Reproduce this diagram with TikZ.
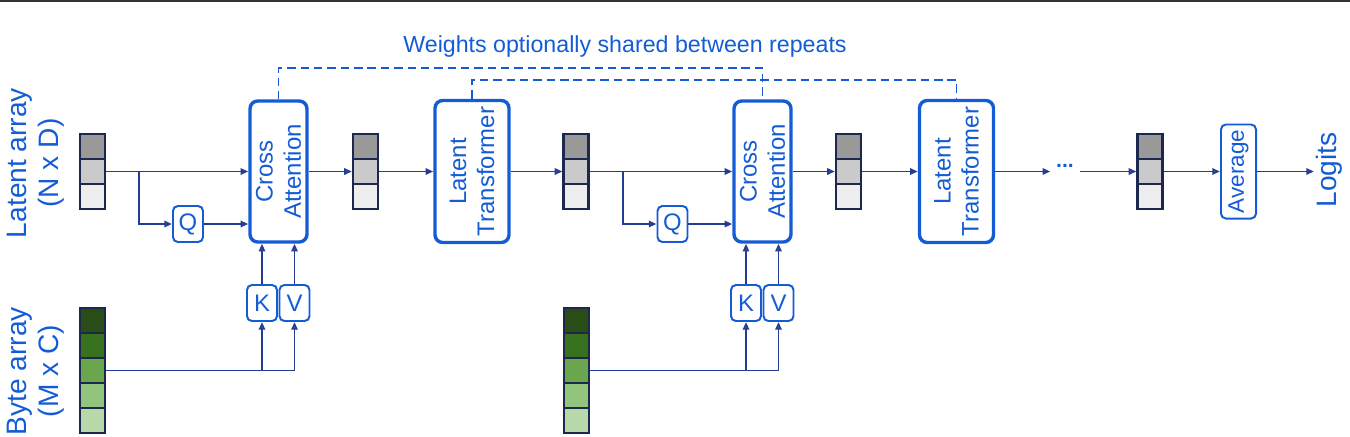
\documentclass[tikz,border=0pt]{standalone}
\usepackage{fontspec}
\setmainfont{Liberation Sans}
\usetikzlibrary{arrows.meta}

\definecolor{dmblue}{RGB}{20,92,214}
\definecolor{wirecol}{RGB}{36,60,145}
\definecolor{cellline}{RGB}{28,40,78}
\definecolor{lat1}{RGB}{153,153,153}
\definecolor{lat2}{RGB}{202,202,202}
\definecolor{lat3}{RGB}{238,238,238}
\definecolor{byte1}{RGB}{42,77,23}
\definecolor{byte2}{RGB}{56,114,30}
\definecolor{byte3}{RGB}{105,166,78}
\definecolor{byte4}{RGB}{147,196,125}
\definecolor{byte5}{RGB}{183,216,168}

\begin{document}
\begin{tikzpicture}[x=0.025cm,y=-0.025cm,
  flow/.style={draw=wirecol, line width=1.4pt, -{Triangle[open,length=5.5pt,width=4.5pt]}},
  shared/.style={draw=dmblue, line width=1.3pt, dash pattern=on 6pt off 3.5pt},
  cell/.style={draw=cellline, line width=1.5pt, minimum size=6.25mm, inner sep=0},
  bigbox/.style={draw=dmblue, line width=2.4pt, rounded corners=5.5pt, fill=white, inner sep=0},
  smallbox/.style={draw=dmblue, line width=1.4pt, rounded corners=3.5pt, fill=white, inner sep=0,
    minimum width=7.5mm, minimum height=9mm, text=dmblue, font=\fontsize{17}{20}\selectfont},
  boxtext/.style={rotate=90, align=center, text=dmblue, font=\fontsize{17}{20}\selectfont},
  sidetext/.style={rotate=90, align=center, text=dmblue, font=\fontsize{20}{23}\selectfont}]

\useasboundingbox (0,0) rectangle (1350,436);
\draw[draw=black!80, line width=1.4pt] (0,1) -- (1350,1);

% latent and byte arrays
\foreach \name/\x in {la1/92.5, la2/365.5, la3/576, la4/848.5, la5/1150}
  \foreach \i/\y in {1/146.5, 2/171.5, 3/196.5}
    \node[cell, fill=lat\i] (\name-\i) at (\x,\y) {};
\foreach \name/\x in {ba1/92.5, ba2/576.5}
  \foreach \i/\y in {1/320.5, 2/345.5, 3/370.5, 4/395.5, 5/420.5}
    \node[cell, fill=byte\i] (\name-\i) at (\x,\y) {};

\node[sidetext] at (36,163) {Latent array\\(N x D)};
\node[sidetext] at (36,371) {Byte array\\(M x C)};

% blocks
\node[bigbox, minimum width=14.25mm, minimum height=35.25mm] (ca1) at (278.5,171.5) {};
\node[boxtext] at (ca1) {Cross\\Attention};
\node[bigbox, minimum width=18.5mm, minimum height=35.5mm] (lt1) at (472,171.5) {};
\node[boxtext] at (lt1) {Latent\\Transformer};
\node[bigbox, minimum width=14.25mm, minimum height=35.25mm] (ca2) at (762.5,171.5) {};
\node[boxtext] at (ca2) {Cross\\Attention};
\node[bigbox, minimum width=18.5mm, minimum height=35.5mm] (lt2) at (956.5,171.5) {};
\node[boxtext] at (lt2) {Latent\\Transformer};

\node[smallbox] (q1) at (188,224) {Q};
\node[smallbox] (k1) at (262,303) {K};
\node[smallbox] (v1) at (294.5,303) {V};
\node[smallbox] (q2) at (672.5,224) {Q};
\node[smallbox] (k2) at (746,303) {K};
\node[smallbox] (v2) at (778.5,303) {V};

\node[smallbox, minimum width=8.75mm, minimum height=23.5mm] (avg) at (1238.5,171.5) {};
\node[boxtext, font=\fontsize{16}{19}\selectfont] at (avg) {Average};
\node[sidetext] (logits) at (1329,170) {Logits};
\node[text=dmblue, inner sep=4pt, font=\bfseries\fontsize{15}{18}\selectfont] (dots) at (1065,166) {...};

\node[text=dmblue, font=\fontsize{16.5}{20}\selectfont] (title) at (625,46) {Weights optionally shared between repeats};

\coordinate (split1) at (139,171.5);
\coordinate (split2) at (623,171.5);
\coordinate (out) at (1314,171.5);

% connectors
\draw[flow] (la1-2.east) -- (ca1.west);
\draw[flow] (split1) |- (q1.west);
\draw[flow] (q1.east) -- (q1 -| ca1.west);
\draw[flow] (ba1-3.east) -| (v1.south);
\draw[flow] (k1.south |- ba1-3.east) -- (k1.south);
\draw[flow] (k1.north) -- (k1.north |- ca1.south);
\draw[flow] (v1.north) -- (v1.north |- ca1.south);
\draw[flow] (ca1.east) -- (la2-2.west);
\draw[flow] (la2-2.east) -- (lt1.west);
\draw[flow] (lt1.east) -- (la3-2.west);

\draw[flow] (la3-2.east) -- (ca2.west);
\draw[flow] (split2) |- (q2.west);
\draw[flow] (q2.east) -- (q2 -| ca2.west);
\draw[flow] (ba2-3.east) -| (v2.south);
\draw[flow] (k2.south |- ba2-3.east) -- (k2.south);
\draw[flow] (k2.north) -- (k2.north |- ca2.south);
\draw[flow] (v2.north) -- (v2.north |- ca2.south);
\draw[flow] (ca2.east) -- (la4-2.west);
\draw[flow] (la4-2.east) -- (lt2.west);
\draw[flow] (lt2.east) -- (dots.west |- lt2.east);
\draw[flow] (dots.east |- la5-2.west) -- (la5-2.west);
\draw[flow] (la5-2.east) -- (avg.west);
\draw[flow] (avg.east) -- (out);

% shared weights
\draw[shared] (ca1.north) -- (ca1.north |- 0,68) -| (ca2.north);
\draw[shared] (lt1.north) -- (lt1.north |- 0,80) -| (lt2.north);

\end{tikzpicture}
\end{document}
